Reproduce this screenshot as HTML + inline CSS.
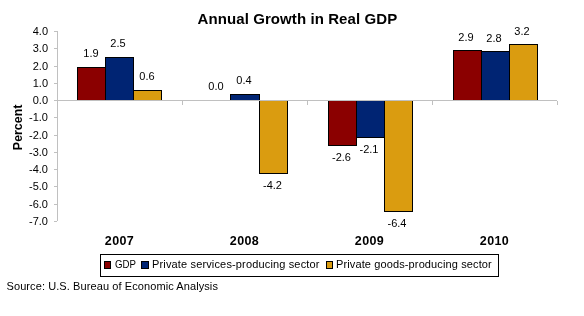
<!DOCTYPE html>
<html><head><meta charset="utf-8"><style>
html,body{margin:0;padding:0;background:#fff;width:584px;height:316px;overflow:hidden}
svg{display:block;shape-rendering:crispEdges;will-change:transform}
text{shape-rendering:auto}
</style></head><body>
<svg width="584" height="316" viewBox="0 0 584 316">
<rect width="584" height="316" fill="#fff"/>
<rect x="77.5" y="67.5" width="28" height="33" fill="#8b0000" stroke="#000" stroke-width="1"/>
<rect x="105.5" y="57.5" width="28" height="43" fill="#002473" stroke="#000" stroke-width="1"/>
<rect x="133.5" y="90.5" width="28" height="10" fill="#da9c10" stroke="#000" stroke-width="1"/>
<rect x="230.5" y="94.5" width="29" height="6" fill="#002473" stroke="#000" stroke-width="1"/>
<rect x="259.5" y="100.5" width="28" height="73" fill="#da9c10" stroke="#000" stroke-width="1"/>
<rect x="328.5" y="100.5" width="28" height="45" fill="#8b0000" stroke="#000" stroke-width="1"/>
<rect x="356.5" y="100.5" width="28" height="37" fill="#002473" stroke="#000" stroke-width="1"/>
<rect x="384.5" y="100.5" width="28" height="111" fill="#da9c10" stroke="#000" stroke-width="1"/>
<rect x="453.5" y="50.5" width="28" height="50" fill="#8b0000" stroke="#000" stroke-width="1"/>
<rect x="481.5" y="51.5" width="28" height="49" fill="#002473" stroke="#000" stroke-width="1"/>
<rect x="509.5" y="44.5" width="28" height="56" fill="#da9c10" stroke="#000" stroke-width="1"/>
<path d="M57.5 31 V221 M57 100.5 H557" stroke="#c0c0c0" stroke-width="1" fill="none"/>
<path d="M54 31.5 H57 M54 48.5 H57 M54 66.5 H57 M54 83.5 H57 M54 100.5 H57 M54 117.5 H57 M54 135.5 H57 M54 152.5 H57 M54 169.5 H57 M54 186.5 H57 M54 204.5 H57 M54 221.5 H57 M57.5 101 V105 M182.5 101 V105 M307.5 101 V105 M432.5 101 V105 M557.5 101 V105 " stroke="#c0c0c0" stroke-width="1" fill="none"/>
<g font-family="Liberation Sans, sans-serif" fill="#000">
<text x="297.4" y="24" font-size="15" font-weight="bold" text-anchor="middle" letter-spacing="0.09">Annual Growth in Real GDP</text>
<text x="48" y="35" font-size="11" text-anchor="end">4.0</text>
<text x="48" y="52" font-size="11" text-anchor="end">3.0</text>
<text x="48" y="70" font-size="11" text-anchor="end">2.0</text>
<text x="48" y="87" font-size="11" text-anchor="end">1.0</text>
<text x="48" y="104" font-size="11" text-anchor="end">0.0</text>
<text x="48" y="121" font-size="11" text-anchor="end">-1.0</text>
<text x="48" y="139" font-size="11" text-anchor="end">-2.0</text>
<text x="48" y="156" font-size="11" text-anchor="end">-3.0</text>
<text x="48" y="173" font-size="11" text-anchor="end">-4.0</text>
<text x="48" y="190" font-size="11" text-anchor="end">-5.0</text>
<text x="48" y="208" font-size="11" text-anchor="end">-6.0</text>
<text x="48" y="225" font-size="11" text-anchor="end">-7.0</text>
<text transform="translate(22 127.4) rotate(-90)" font-size="12.4" font-weight="bold" text-anchor="middle">Percent</text>
<text x="91" y="57" font-size="11" text-anchor="middle">1.9</text>
<text x="118" y="47" font-size="11" text-anchor="middle">2.5</text>
<text x="147" y="80" font-size="11" text-anchor="middle">0.6</text>
<text x="216" y="90" font-size="11" text-anchor="middle">0.0</text>
<text x="244" y="84" font-size="11" text-anchor="middle">0.4</text>
<text x="272.5" y="189" font-size="11" text-anchor="middle">-4.2</text>
<text x="341.5" y="161" font-size="11" text-anchor="middle">-2.6</text>
<text x="369" y="153" font-size="11" text-anchor="middle">-2.1</text>
<text x="397" y="227" font-size="11" text-anchor="middle">-6.4</text>
<text x="466" y="41" font-size="11" text-anchor="middle">2.9</text>
<text x="494" y="42" font-size="11" text-anchor="middle">2.8</text>
<text x="522" y="35" font-size="11" text-anchor="middle">3.2</text>
<text x="119.5" y="245" font-size="12.5" font-weight="bold" text-anchor="middle" letter-spacing="0.4">2007</text>
<text x="244.5" y="245" font-size="12.5" font-weight="bold" text-anchor="middle" letter-spacing="0.4">2008</text>
<text x="369.5" y="245" font-size="12.5" font-weight="bold" text-anchor="middle" letter-spacing="0.4">2009</text>
<text x="494.5" y="245" font-size="12.5" font-weight="bold" text-anchor="middle" letter-spacing="0.4">2010</text>
<rect x="100.5" y="254.5" width="398" height="22" fill="none" stroke="#000"/>
<rect x="104.5" y="261.5" width="6" height="7" fill="#8b0000" stroke="#000"/>
<rect x="141.5" y="261.5" width="7" height="7" fill="#002473" stroke="#000"/>
<rect x="326.5" y="261.5" width="6" height="7" fill="#da9c10" stroke="#000"/>
<text x="115" y="268" font-size="11" textLength="21" lengthAdjust="spacingAndGlyphs">GDP</text>
<text x="152" y="268" font-size="11" letter-spacing="0.15">Private services-producing sector</text>
<text x="336" y="268" font-size="11" letter-spacing="0.12">Private goods-producing sector</text>
<text x="6.5" y="290" font-size="11" letter-spacing="0.09">Source: U.S. Bureau of Economic Analysis</text>
</g>
</svg>
</body></html>
